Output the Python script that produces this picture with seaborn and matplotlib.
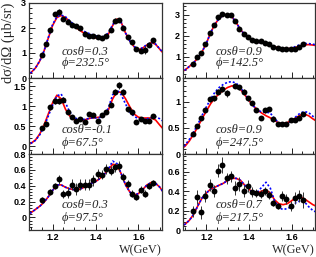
import matplotlib
matplotlib.use('Agg')
import matplotlib.pyplot as plt
import matplotlib.ticker as mticker
import seaborn as sns

sns.set_style('ticks')
plt.rcParams['font.family'] = ['Liberation Sans', 'DejaVu Sans']

# shared W grid for the model curves
CURVE_W = [1.08, 1.10, 1.12, 1.14, 1.16, 1.18, 1.20, 1.22, 1.24, 1.26, 1.28, 1.30, 1.32,
           1.34, 1.36, 1.38, 1.40, 1.42, 1.44, 1.46, 1.48, 1.50, 1.52, 1.54, 1.56, 1.58,
           1.60, 1.62, 1.64, 1.66, 1.68, 1.70, 1.72]

# top left: cos=0.3, phi=232.5
W_TL = [1.15, 1.17, 1.19, 1.21, 1.23, 1.25, 1.27, 1.29, 1.31, 1.33, 1.35, 1.37, 1.39, 1.41,
        1.43, 1.45, 1.47, 1.49, 1.51, 1.53, 1.55, 1.57, 1.59, 1.61, 1.63, 1.65, 1.67]
Y_TL = [0.91, 1.37, 1.94, 2.56, 2.66, 2.36, 2.23, 2.13, 2.07, 2.00, 1.77, 1.67, 1.70, 1.65,
        1.61, 1.67, 1.94, 2.30, 2.33, 2.00, 1.65, 1.44, 1.17, 1.08, 1.12, 1.34, 1.51]
E_TL = [0.08, 0.08, 0.09, 0.09, 0.12, 0.08, 0.07, 0.07, 0.07, 0.07, 0.07, 0.07, 0.07, 0.07,
        0.07, 0.07, 0.08, 0.09, 0.09, 0.08, 0.08, 0.08, 0.08, 0.08, 0.15, 0.08, 0.10]
RED_TL = [0.12, 0.22, 0.40, 0.68, 1.08, 1.60, 2.10, 2.42, 2.50, 2.42, 2.25, 2.08, 1.95,
          1.83, 1.74, 1.67, 1.60, 1.56, 1.58, 1.75, 2.10, 2.36, 2.22, 1.80, 1.48, 1.25,
          1.13, 1.20, 1.32, 1.42, 1.35, 1.15, 0.95]
BLUE_TL = [0.12, 0.22, 0.40, 0.68, 1.08, 1.62, 2.14, 2.45, 2.52, 2.45, 2.29, 2.13, 2.01,
           1.90, 1.81, 1.75, 1.69, 1.65, 1.66, 1.80, 2.13, 2.37, 2.22, 1.80, 1.48, 1.26,
           1.15, 1.21, 1.34, 1.43, 1.36, 1.16, 0.96]

# top right: cos=0.9, phi=142.5
W_TR = [1.135, 1.155, 1.175, 1.195, 1.215, 1.235, 1.255, 1.275, 1.295, 1.315, 1.335, 1.355,
        1.375, 1.395, 1.415, 1.435, 1.455, 1.475, 1.495, 1.515, 1.535, 1.555, 1.575, 1.595,
        1.615, 1.635, 1.655]
Y_TR = [0.66, 1.00, 1.16, 1.60, 2.15, 2.53, 2.90, 3.05, 2.96, 3.00, 2.69, 2.30, 2.07, 1.94,
        1.80, 1.74, 1.74, 1.68, 1.63, 1.49, 1.41, 1.39, 1.36, 1.36, 1.39, 1.47, 1.63]
E_TR = [0.06, 0.06, 0.06, 0.07, 0.07, 0.07, 0.07, 0.08, 0.08, 0.08, 0.07, 0.07, 0.06, 0.06,
        0.06, 0.05, 0.05, 0.05, 0.05, 0.05, 0.05, 0.05, 0.05, 0.05, 0.05, 0.05, 0.06]
RED_TR = [0.30, 0.38, 0.55, 0.72, 0.95, 1.25, 1.65, 2.15, 2.55, 2.82, 2.97, 3.02, 2.90,
          2.62, 2.30, 2.05, 1.88, 1.76, 1.70, 1.66, 1.61, 1.55, 1.48, 1.43, 1.40, 1.39,
          1.40, 1.45, 1.52, 1.57, 1.58, 1.56, 1.53]
BLUE_TR = [0.30, 0.38, 0.55, 0.72, 0.95, 1.25, 1.65, 2.15, 2.55, 2.82, 2.97, 3.02, 2.90,
           2.62, 2.30, 2.05, 1.88, 1.76, 1.70, 1.66, 1.61, 1.55, 1.48, 1.43, 1.40, 1.39,
           1.41, 1.50, 1.58, 1.63, 1.63, 1.60, 1.56]

# middle left: cos=-0.1, phi=67.5
W_ML = [1.15, 1.17, 1.19, 1.21, 1.23, 1.25, 1.27, 1.29, 1.31, 1.33, 1.35, 1.37, 1.39, 1.41,
        1.43, 1.45, 1.47, 1.49, 1.51, 1.53, 1.55, 1.57, 1.59, 1.61, 1.63, 1.65, 1.67]
Y_ML = [0.45, 0.56, 0.97, 1.12, 1.12, 1.16, 0.86, 0.73, 0.62, 0.68, 0.61, 0.79, 0.78, 0.62,
        0.78, 0.84, 1.03, 1.35, 1.52, 1.35, 0.92, 0.84, 0.61, 0.67, 0.62, 0.62, 0.75]
E_ML = [0.06, 0.06, 0.06, 0.07, 0.07, 0.07, 0.05, 0.05, 0.05, 0.05, 0.05, 0.05, 0.05, 0.05,
        0.05, 0.05, 0.06, 0.07, 0.09, 0.07, 0.06, 0.06, 0.05, 0.05, 0.05, 0.05, 0.05]
RED_ML = [0.03, 0.07, 0.15, 0.30, 0.52, 0.80, 1.08, 1.27, 1.18, 0.92, 0.75, 0.66, 0.63,
          0.64, 0.67, 0.70, 0.71, 0.72, 0.76, 0.90, 1.18, 1.36, 1.34, 1.18, 0.98, 0.80,
          0.72, 0.70, 0.70, 0.70, 0.65, 0.52, 0.40]
BLUE_ML = [0.03, 0.07, 0.14, 0.28, 0.48, 0.75, 1.02, 1.25, 1.30, 1.08, 0.85, 0.72, 0.66,
           0.66, 0.68, 0.70, 0.70, 0.71, 0.76, 0.95, 1.28, 1.40, 1.28, 1.05, 0.85, 0.74,
           0.68, 0.67, 0.68, 0.71, 0.73, 0.68, 0.60]

# middle right: cos=0.9, phi=247.5
W_MR = [1.135, 1.155, 1.175, 1.195, 1.215, 1.235, 1.255, 1.275, 1.295, 1.335, 1.355, 1.375,
        1.395, 1.415, 1.435, 1.455, 1.475, 1.495, 1.515, 1.535, 1.555, 1.575, 1.595, 1.615,
        1.635, 1.655]
Y_MR = [0.38, 0.53, 0.68, 0.84, 1.04, 1.06, 1.19, 1.24, 1.16, 1.30, 1.27, 1.19, 1.06, 0.97,
        0.84, 0.68, 0.83, 0.86, 0.66, 0.58, 0.57, 0.58, 0.65, 0.65, 0.68, 0.76]
E_MR = [0.04, 0.04, 0.04, 0.04, 0.05, 0.05, 0.05, 0.05, 0.07, 0.05, 0.05, 0.05, 0.04, 0.04,
        0.04, 0.04, 0.04, 0.04, 0.04, 0.03, 0.03, 0.03, 0.03, 0.03, 0.03, 0.03]
RED_MR = [0.09, 0.15, 0.25, 0.38, 0.52, 0.68, 0.82, 0.96, 1.07, 1.15, 1.22, 1.27, 1.30,
          1.29, 1.23, 1.13, 1.02, 0.92, 0.84, 0.78, 0.73, 0.69, 0.64, 0.59, 0.58, 0.60,
          0.64, 0.69, 0.74, 0.76, 0.73, 0.67, 0.62]
BLUE_MR = [0.10, 0.17, 0.28, 0.42, 0.57, 0.74, 0.90, 1.05, 1.18, 1.27, 1.33, 1.37, 1.38,
           1.35, 1.27, 1.15, 1.03, 0.92, 0.84, 0.80, 0.80, 0.78, 0.68, 0.59, 0.55, 0.57,
           0.63, 0.71, 0.78, 0.81, 0.79, 0.72, 0.66]

# bottom left: cos=0.3, phi=97.5
W_BL = [1.15, 1.19, 1.21, 1.23, 1.25, 1.27, 1.29, 1.31, 1.33, 1.35, 1.37, 1.39, 1.41, 1.43,
        1.45, 1.47, 1.49, 1.51, 1.53, 1.55, 1.57, 1.59, 1.61, 1.63, 1.65, 1.67]
Y_BL = [0.22, 0.32, 0.40, 0.48, 0.30, 0.31, 0.41, 0.36, 0.41, 0.41, 0.41, 0.47, 0.55, 0.54,
        0.61, 0.59, 0.63, 0.65, 0.51, 0.42, 0.30, 0.26, 0.35, 0.30, 0.40, 0.43]
E_BL = [0.04, 0.04, 0.04, 0.06, 0.05, 0.07, 0.07, 0.08, 0.07, 0.07, 0.07, 0.07, 0.06, 0.06,
        0.06, 0.06, 0.06, 0.06, 0.05, 0.05, 0.04, 0.04, 0.04, 0.04, 0.04, 0.04]
RED_BL = [0.02, 0.06, 0.10, 0.14, 0.19, 0.26, 0.34, 0.41, 0.41, 0.38, 0.36, 0.35, 0.35,
          0.37, 0.40, 0.43, 0.45, 0.49, 0.54, 0.60, 0.67, 0.66, 0.55, 0.41, 0.32, 0.28,
          0.30, 0.35, 0.41, 0.44, 0.43, 0.38, 0.30]
BLUE_BL = [0.02, 0.06, 0.10, 0.14, 0.19, 0.26, 0.34, 0.41, 0.41, 0.38, 0.36, 0.35, 0.35,
           0.37, 0.40, 0.43, 0.45, 0.49, 0.54, 0.61, 0.71, 0.68, 0.55, 0.41, 0.32, 0.28,
           0.30, 0.35, 0.41, 0.44, 0.43, 0.38, 0.30]

# bottom right: cos=0.7, phi=217.5
W_BR = [1.135, 1.155, 1.175, 1.195, 1.215, 1.235, 1.255, 1.275, 1.295, 1.315, 1.335, 1.355,
        1.375, 1.395, 1.415, 1.435, 1.455, 1.475, 1.495, 1.515, 1.535, 1.555, 1.575, 1.595,
        1.615, 1.635, 1.655]
Y_BR = [0.19, 0.34, 0.18, 0.35, 0.46, 0.40, 0.61, 0.67, 0.53, 0.55, 0.43, 0.47, 0.40, 0.45,
        0.39, 0.38, 0.37, 0.40, 0.36, 0.28, 0.25, 0.35, 0.32, 0.25, 0.33, 0.35, 0.31]
E_BR = [0.06, 0.07, 0.07, 0.06, 0.06, 0.06, 0.07, 0.08, 0.06, 0.06, 0.07, 0.07, 0.06, 0.06,
        0.05, 0.04, 0.04, 0.04, 0.04, 0.03, 0.03, 0.05, 0.05, 0.05, 0.06, 0.06, 0.08]
RED_BR = [0.03, 0.06, 0.10, 0.16, 0.25, 0.33, 0.38, 0.42, 0.44, 0.46, 0.48, 0.51, 0.53,
          0.53, 0.51, 0.46, 0.42, 0.38, 0.38, 0.40, 0.41, 0.38, 0.31, 0.27, 0.26, 0.27,
          0.30, 0.33, 0.34, 0.32, 0.29, 0.26, 0.24]
BLUE_BR = [0.03, 0.06, 0.10, 0.16, 0.25, 0.33, 0.38, 0.42, 0.44, 0.46, 0.48, 0.51, 0.53,
           0.53, 0.51, 0.46, 0.42, 0.38, 0.39, 0.44, 0.49, 0.43, 0.30, 0.23, 0.21, 0.22,
           0.24, 0.28, 0.30, 0.29, 0.24, 0.20, 0.18]

COS_LABELS = ['cosθ=0.3', 'cosθ=0.9', 'cosθ=-0.1', 'cosθ=0.9', 'cosθ=0.3', 'cosθ=0.7']
PHI_LABELS = ['ϕ=232.5°', 'ϕ=142.5°', 'ϕ=67.5°', 'ϕ=247.5°', 'ϕ=97.5°', 'ϕ=217.5°']

panels = [
    (W_TL, Y_TL, E_TL, RED_TL, BLUE_TL, (0, 3.0), 1.0),
    (W_TR, Y_TR, E_TR, RED_TR, BLUE_TR, (0, 3.55), 1.0),
    (W_ML, Y_ML, E_ML, RED_ML, BLUE_ML, (-0.2, 1.7), 0.5),
    (W_MR, Y_MR, E_MR, RED_MR, BLUE_MR, (0, 1.45), 0.5),
    (W_BL, Y_BL, E_BL, RED_BL, BLUE_BL, (-0.16, 0.8), 0.2),
    (W_BR, Y_BR, E_BR, RED_BR, BLUE_BR, (0, 0.78), 0.2),
]

W_PX, H_PX = 316, 257
fig = plt.figure(figsize=(W_PX / 100, H_PX / 100), dpi=100)

col_x = [29, 183]
col_w = [133, 132]
row_top = [3, 78, 154]
row_h = [75, 76, 76]

serif = ['Liberation Serif', 'DejaVu Serif']
fmt = mticker.FuncFormatter(lambda v, _: '%g' % round(v, 3))

for i, (w, y, e, red, blue, ylim, major) in enumerate(panels):
    r, c = divmod(i, 2)
    ax = fig.add_axes([col_x[c] / W_PX, 1 - (row_top[r] + row_h[r]) / H_PX,
                       col_w[c] / W_PX, row_h[r] / H_PX])
    sns.lineplot(x=CURVE_W, y=red, ax=ax, color='#ff0000', lw=1.2, sort=False)
    sns.lineplot(x=CURVE_W, y=blue, ax=ax, color='#0000ff', lw=1.2, sort=False,
                 dashes=False, linestyle=(0, (1.2, 1.2)))
    ax.errorbar(w, y, yerr=e, fmt='none', ecolor='#333333', elinewidth=0.7, zorder=4)
    sns.scatterplot(x=w, y=y, ax=ax, color='black', s=18, edgecolor='black',
                    linewidth=0, zorder=5)
    ax.set_xlim(1.09, 1.71)
    ax.set_ylim(*ylim)
    ax.xaxis.set_major_locator(mticker.MultipleLocator(0.2))
    ax.xaxis.set_minor_locator(mticker.MultipleLocator(0.05))
    ax.yaxis.set_major_locator(mticker.MultipleLocator(major))
    ax.yaxis.set_minor_locator(mticker.AutoMinorLocator(5))
    ax.yaxis.set_major_formatter(fmt)
    ax.tick_params(which='both', direction='in', top=False, right=False, width=0.6,
                   labelsize=6.5, pad=2, colors='black')
    ax.tick_params(which='major', length=4)
    ax.tick_params(which='minor', length=2)
    for lab in ax.get_xticklabels() + ax.get_yticklabels():
        lab.set_fontweight('bold')
    if r < 2:
        ax.set_xticklabels([])
    for sp in ax.spines.values():
        sp.set_color('#333333')
        sp.set_linewidth(0.9)
    ax.set_xlabel('')
    ax.set_ylabel('')
    if r == 0:
        ty = (0.35, 0.20)
    elif r == 1:
        ty = (0.31, 0.15)
    else:
        ty = (0.33, 0.16)
    ax.text(0.245, ty[0], COS_LABELS[i], transform=ax.transAxes, family=serif,
            style='italic', fontsize=9, va='center', ha='left')
    ax.text(0.245, ty[1], PHI_LABELS[i], transform=ax.transAxes, family=serif,
            style='italic', fontsize=9, va='center', ha='left')
    if r == 2:
        ax.text(1.0, -0.265, 'W(GeV)', transform=ax.transAxes, family=serif,
                fontsize=8.8, ha='right', va='center')

fig.text(0.026, 0.99, 'dσ/dΩ (μb/sr)', rotation=90, family=serif, fontsize=10.5,
         ha='center', va='top')

fig.savefig('out.png', dpi=100)
